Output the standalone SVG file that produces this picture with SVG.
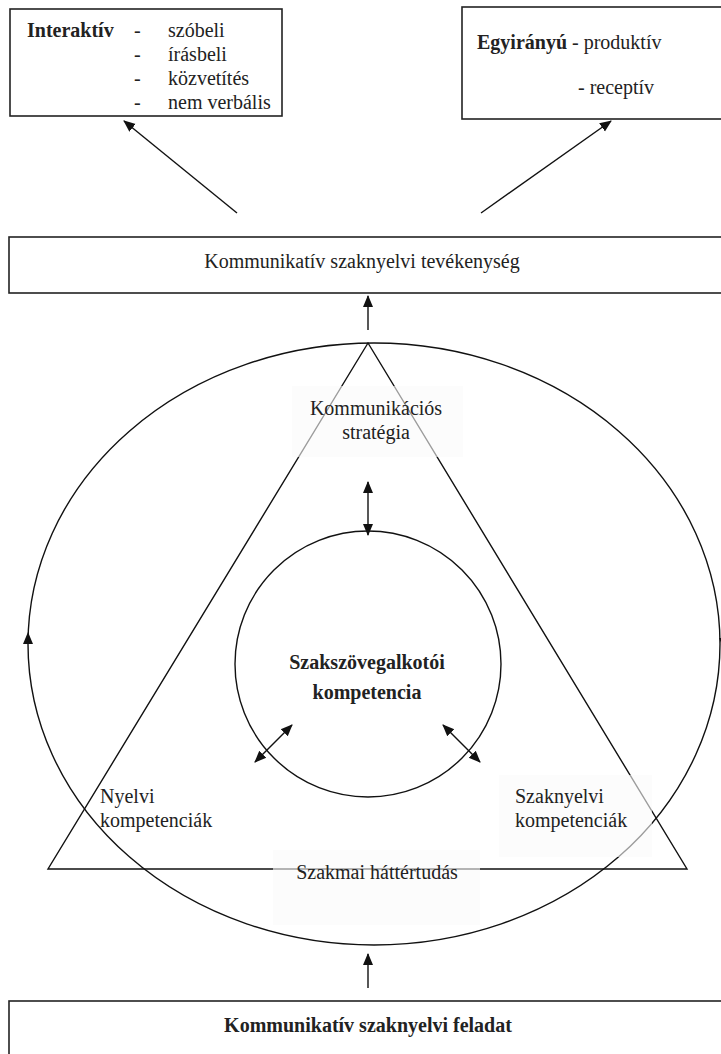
<svg xmlns="http://www.w3.org/2000/svg" width="721" height="1054" viewBox="0 0 721 1054">
<style>
.box{fill:#fff;stroke:#222;stroke-width:1.6}
.ln{fill:none;stroke:#111;stroke-width:1.4}
.t{font-family:"Liberation Serif","Times New Roman",serif;font-size:20px;fill:#222}
.b{font-weight:bold}
.m{text-anchor:middle}
.veil{fill:#fafafa;fill-opacity:0.6}
</style>
<defs>
<marker id="ah" markerUnits="userSpaceOnUse" markerWidth="12" markerHeight="12" viewBox="0 0 12 10" refX="11" refY="5" orient="auto-start-reverse">
<path d="M0,0 L12,5 L0,10 z" fill="#111"/>
</marker>
</defs>
<rect width="721" height="1054" fill="#fff"/>
<g id="shapes">
<ellipse id="outer-ellipse" class="ln" cx="374" cy="644" rx="346" ry="301"/>
<polygon id="triangle" class="ln" points="368,343 48,869 687,869"/>
<circle id="inner-circle" class="ln" cx="368" cy="664" r="133"/>
</g>
<g id="connectors">
<line class="ln" x1="237" y1="213" x2="124" y2="121" marker-end="url(#ah)"/>
<line class="ln" x1="481" y1="213" x2="611" y2="121" marker-end="url(#ah)"/>
<line class="ln" x1="368" y1="330" x2="368" y2="296" marker-end="url(#ah)"/>
<line class="ln" x1="368" y1="482" x2="368" y2="535" marker-start="url(#ah)" marker-end="url(#ah)"/>
<line class="ln" x1="292" y1="725" x2="255" y2="762" marker-start="url(#ah)" marker-end="url(#ah)"/>
<line class="ln" x1="443" y1="725" x2="480" y2="762" marker-start="url(#ah)" marker-end="url(#ah)"/>
<line class="ln" x1="368" y1="988" x2="368" y2="954" marker-end="url(#ah)"/>
<polygon points="28,632 23,644 33,644" fill="#111"/>
<polygon points="724,650 719,638 729,638" fill="#111"/>
</g>
<g id="interaktiv">
<rect class="box" x="10" y="9" width="272" height="107"/>
<text class="t b" x="27" y="37">Interaktív</text>
<text class="t" x="134" y="37">-</text>
<text class="t" x="168" y="37">szóbeli</text>
<text class="t" x="134" y="61">-</text>
<text class="t" x="168" y="61">írásbeli</text>
<text class="t" x="134" y="85">-</text>
<text class="t" x="168" y="85">közvetítés</text>
<text class="t" x="134" y="109">-</text>
<text class="t" x="168" y="109">nem verbális</text>
</g>
<g id="egyiranyu">
<rect class="box" x="462" y="7" width="270" height="112"/>
<text class="t" x="477" y="49"><tspan class="b">Egyirányú</tspan>  - produktív</text>
<text class="t" x="578" y="94">-  receptív</text>
</g>
<g id="tevekenyseg">
<rect class="box" x="9" y="237" width="723" height="56"/>
<text class="t m" x="362" y="268">Kommunikatív szaknyelvi tevékenység</text>
</g>
<g id="strategia">
<rect class="veil" x="292" y="386" width="171" height="71"/>
<text class="t m" x="376" y="415">Kommunikációs</text>
<text class="t m" x="376" y="439">stratégia</text>
</g>
<g id="szakszoveg">
<text class="t b m" x="367" y="669">Szakszövegalkotói</text>
<text class="t b m" x="367" y="699">kompetencia</text>
</g>
<g id="nyelvi">
<text class="t" x="100" y="803">Nyelvi</text>
<text class="t" x="100" y="827">kompetenciák</text>
</g>
<g id="szaknyelvi">
<rect class="veil" x="499" y="775" width="153" height="82"/>
<text class="t" x="515" y="803">Szaknyelvi</text>
<text class="t" x="515" y="827">kompetenciák</text>
</g>
<g id="szakmai">
<rect class="veil" x="273" y="850" width="207" height="75"/>
<text class="t m" x="377" y="879">Szakmai háttértudás</text>
</g>
<g id="feladat">
<rect class="box" x="9" y="1001" width="723" height="60"/>
<text class="t b m" x="368" y="1032">Kommunikatív szaknyelvi feladat</text>
</g>
</svg>
